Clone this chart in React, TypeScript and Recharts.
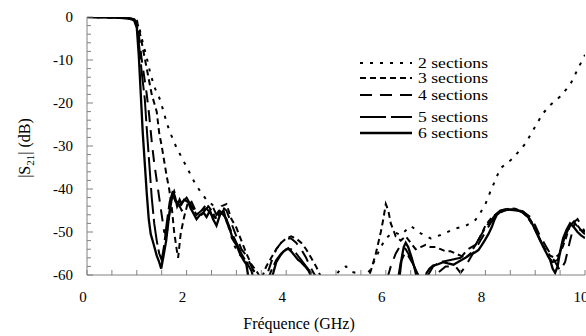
import React from "react";
import { LineChart, Line, XAxis, YAxis } from "recharts";

// ---- data ----
const seriesNames = ["2 sections", "3 sections", "4 sections", "5 sections", "6 sections"];
const xTicks = [0, 0.5, 1, 1.5, 2, 2.5, 3, 3.5, 4, 4.5, 5, 5.5, 6, 6.5, 7, 7.5, 8, 8.5, 9, 9.5, 10];
const xTickLabels = ["0", "2", "4", "6", "8", "10"];
const yTicks = [0, -2, -4, -6, -8, -10, -12, -14, -16, -18, -20, -22, -24, -26, -28, -30, -32, -34, -36, -38, -40, -42, -44, -46, -48, -50, -52, -54, -56, -58, -60];
const yTickLabels = ["0", "-10", "-20", "-30", "-40", "-50", "-60"];

const f2 = [0, 0.5, 0.8, 0.95, 1.0, 1.05, 1.1, 1.2, 1.27, 1.35, 1.47, 1.55, 1.6, 1.7, 1.79, 1.93, 2.05, 2.17, 2.3, 2.4, 2.5, 2.6, 2.7, 2.8, 2.87, 2.95, 3.05, 3.15, 3.25, 3.35, 3.45, 3.6, 4.0, 4.5, 4.9, 5.0, 5.1, 5.2, 5.3, 5.4, 5.5, 5.6, 5.7, 5.8, 5.9, 6.0, 6.1, 6.2, 6.3, 6.5, 6.7, 6.9, 7.1, 7.4, 7.6, 7.8, 7.9, 8.0, 8.1, 8.2, 8.3, 8.55, 8.8, 9.0, 9.15, 9.3, 9.5, 9.7, 9.83, 9.93, 10];
const v2 = [0, -0.1, -0.2, -0.4, -0.8, -2.5, -5, -9.5, -13, -16.2, -19.3, -22.5, -24.7, -27.7, -30.2, -33.3, -36, -38.7, -41, -42.5, -43.5, -44.5, -45.5, -47, -50, -53, -55, -56.5, -57.5, -59, -60.5, -63, -67, -64, -61, -60, -58.5, -58, -59.2, -59.5, -60.5, -60.3, -58.5, -56, -53.5, -51.5, -50.5, -50.2, -50.7, -48.6, -50.3, -51.5, -50.7, -49.2, -48.6, -47.2, -45.5, -43.5, -40.6, -37.9, -35.2, -32.9, -29.5, -25.5, -22.5, -20.5, -18.5, -15.8, -12.7, -10.4, -8.8];

const f3 = [0, 0.5, 0.8, 0.95, 1.0, 1.05, 1.1, 1.15, 1.2, 1.25, 1.3, 1.35, 1.4, 1.45, 1.5, 1.55, 1.6, 1.65, 1.7, 1.75, 1.8, 1.83, 1.88, 1.95, 2.03, 2.1, 2.2, 2.3, 2.4, 2.5, 2.6, 2.7, 2.8, 2.9, 3.0, 3.1, 3.2, 3.3, 3.4, 3.5, 3.6, 3.7, 3.8, 3.9, 4.0, 4.1, 4.2, 4.3, 4.4, 4.5, 4.6, 4.7, 4.8, 5.2, 5.6, 5.7, 5.8, 5.9, 5.95, 6.0, 6.05, 6.1, 6.2, 6.3, 6.4, 6.5, 6.6, 6.7, 6.8, 6.9, 7.0, 7.1, 7.2, 7.3, 7.4, 7.5, 7.6, 7.7, 7.8, 7.9, 8.0, 8.1, 8.2, 8.3, 8.4, 8.5, 8.6, 8.7, 8.8, 8.9, 9.0, 9.1, 9.2, 9.3, 9.4, 9.5, 9.6, 9.7, 9.75, 9.8, 9.9, 10];
const v3 = [0, -0.1, -0.2, -0.5, -1, -3, -6, -9, -12, -15, -18, -20, -22, -27, -30, -33.5, -37, -40, -44, -50, -54, -56, -50.5, -46.5, -43, -44, -46, -45, -43.5, -45, -47, -44, -43.5, -47, -49, -52, -55, -57.5, -59, -61, -58, -56, -54, -52.5, -51.5, -51, -51.5, -52.5, -54, -56, -58, -60.5, -64, -68, -62, -59, -55, -50, -47, -43.5, -45, -48, -51, -52, -51, -52.5, -54, -53.5, -53, -53.5, -53.5, -54, -54.5, -54.5, -55, -55.5, -56, -55, -53, -51, -48.5, -47, -46, -45.2, -44.8, -44.5, -44.6, -45, -46, -47.5, -49.5, -52, -54, -55.5, -56, -55, -52, -48.5, -47.5, -48, -49.5, -50];

const f4 = [0, 0.5, 0.8, 0.95, 1.0, 1.05, 1.1, 1.15, 1.2, 1.25, 1.3, 1.35, 1.4, 1.45, 1.5, 1.55, 1.6, 1.65, 1.7, 1.75, 1.82, 1.9, 2.0, 2.1, 2.2, 2.3, 2.4, 2.5, 2.6, 2.7, 2.8, 2.9, 3.0, 3.1, 3.2, 3.3, 3.4, 3.5, 3.6, 3.7, 3.8, 3.9, 4.0, 4.1, 4.2, 4.3, 4.4, 4.5, 4.6, 4.7, 5.5, 6.0, 6.1, 6.2, 6.3, 6.4, 6.5, 6.6, 6.7, 6.8, 7.0, 7.2, 7.4, 7.5, 7.6, 7.7, 7.8, 7.9, 8.0, 8.1, 8.2, 8.3, 8.45, 8.6, 8.75, 8.9, 9.0, 9.1, 9.2, 9.3, 9.4, 9.5, 9.6, 9.7, 9.8, 9.85, 9.9, 10];
const v4 = [0, -0.1, -0.2, -0.5, -1.5, -5, -10, -14, -18, -23, -29, -34, -38, -42, -46, -50, -50.5, -46, -42, -40.5, -43, -45, -44, -43, -45.5, -46, -44.5, -43.5, -46, -44, -45, -48, -51, -54, -55.5, -58, -60.5, -62, -60.5, -57, -54, -52.5, -51.5, -51.5, -52.5, -54, -56, -58.5, -60.5, -63, -70, -62, -58, -55, -53, -54, -56, -59, -61, -62, -60, -58, -58, -59.5, -58, -56, -54, -52, -50, -48, -46.5, -45.5, -44.7, -44.8, -45.2, -46.5, -48.5, -51, -53, -55, -57, -59, -57, -52, -47.5, -47, -48, -50];

const f5 = [0, 0.5, 0.8, 0.95, 1.0, 1.05, 1.1, 1.16, 1.2, 1.25, 1.3, 1.35, 1.4, 1.45, 1.5, 1.55, 1.6, 1.66, 1.71, 1.78, 1.85, 1.92, 2.0, 2.1, 2.2, 2.3, 2.4, 2.5, 2.6, 2.7, 2.8, 2.9, 3.0, 3.1, 3.2, 3.3, 3.35, 3.5, 3.65, 3.7, 3.8, 3.9, 4.0, 4.1, 4.2, 4.3, 4.4, 4.5, 4.56, 4.7, 5.5, 6.1, 6.25, 6.3, 6.38, 6.45, 6.55, 6.65, 6.75, 6.85, 6.95, 7.1, 7.3, 7.5, 7.65, 7.8, 7.9, 8.0, 8.1, 8.2, 8.3, 8.45, 8.6, 8.75, 8.85, 8.95, 9.05, 9.15, 9.25, 9.35, 9.45, 9.52, 9.6, 9.7, 9.78, 9.85, 9.95, 10];
const v5 = [0, -0.1, -0.3, -0.7, -1.5, -7, -13, -19, -26, -34, -42, -48, -52, -55, -56.5, -53, -48, -43, -41, -43, -44, -43, -42, -44, -46, -45, -44.5, -46, -47, -45.5, -47, -50, -52.5, -55, -57, -59, -61, -64, -60.5, -59, -56.5, -55, -54, -54, -55, -56.5, -58, -59.5, -61, -66, -70, -66, -60.5, -57, -55, -55.5, -57.5, -60, -62, -60, -58, -57, -56.5, -56, -54, -53, -51, -49, -47.5, -46, -45, -44.6, -44.8, -45.5, -46.5, -48, -50.5, -53, -55.5, -57, -56.5, -54, -51, -48.5, -47.5, -48.5, -50, -50.5];

const f6 = [0, 0.5, 0.8, 0.9, 0.95, 1.0, 1.04, 1.08, 1.12, 1.16, 1.2, 1.24, 1.28, 1.33, 1.4, 1.45, 1.49, 1.53, 1.59, 1.64, 1.69, 1.73, 1.77, 1.81, 1.86, 1.9, 1.95, 2.03, 2.08, 2.13, 2.2, 2.27, 2.34, 2.4, 2.47, 2.53, 2.6, 2.67, 2.74, 2.8, 2.87, 2.94, 3.0, 3.07, 3.14, 3.2, 3.24, 3.3, 3.5, 3.7, 3.74, 3.8, 3.88, 3.95, 4.04, 4.1, 4.17, 4.24, 4.3, 4.38, 4.45, 4.51, 4.6, 5.0, 6.0, 6.22, 6.28, 6.32, 6.36, 6.4, 6.45, 6.52, 6.58, 6.62, 6.7, 6.78, 6.82, 6.88, 6.95, 7.05, 7.15, 7.25, 7.36, 7.45, 7.52, 7.6, 7.69, 7.78, 7.86, 7.93, 7.99, 8.06, 8.13, 8.18, 8.23, 8.3, 8.36, 8.46, 8.56, 8.66, 8.76, 8.84, 8.9, 8.97, 9.03, 9.1, 9.16, 9.23, 9.3, 9.35, 9.4, 9.45, 9.5, 9.56, 9.63, 9.7, 9.77, 9.85, 9.92, 10];
const v6 = [0, -0.1, -0.3, -0.5, -0.9, -2.5, -9, -18, -27, -34, -41, -47, -50.5, -52.5, -55.5, -57, -58.5, -56, -52, -47, -43, -40.5, -42, -44, -42.5, -43.5, -42.5, -43, -44.5, -45.5, -47, -46, -45.5, -46.5, -45, -47, -48.5, -46, -45, -47.5, -49.5, -52, -53, -55, -56.5, -57.5, -60.5, -63, -64, -61, -59.5, -57, -55.5, -54.5, -53.8, -54.5, -55.5, -56.5, -57, -58, -59, -60.5, -64, -70, -68, -62, -60, -56, -53.5, -52.5, -53.5, -56, -58.5, -60.5, -64, -62, -59.5, -58.5, -57.8, -57.5, -57, -57.3, -57.6, -57, -56.5, -56, -55.3, -54.8, -54.2, -53, -51.9, -50.5, -48.8, -47.2, -46, -45.3, -45, -44.8, -44.9, -45, -45.3, -46.2, -47.2, -48.8, -50.3, -52, -53.4, -55, -56.5, -58.5, -59.5, -58, -54.5, -51.5, -49.5, -48, -48.8, -50, -50.8, -51.4];

// ---- styles ----
const FONT = "Liberation Serif, Tinos, Times New Roman, Times, DejaVu Serif, serif";
const AXIS = "#808080";
const PT = 17, PB = 275, PL = 87, PR = 585;
const dashes = ["3 7", "6 4", "12 8", "26 5", ""];
const widths = [2, 2, 2, 2, 2.3];

const build = (f: number[], v: number[]) => f.map((x, i) => ({ f: x, v: v[i] }));
const seriesData = [build(f2, v2), build(f3, v3), build(f4, v4), build(f5, v5), build(f6, v6)];

const txt = { fontFamily: FONT };

const XTickB = (props: any) => {
  const { x, payload } = props;
  const val = payload.value as number;
  const label = xTickLabels.find((t) => Number(t) === val);
  return (
    <g>
      <line x1={x} x2={x} y1={PB} y2={PB - 5} stroke={AXIS} />
      {label !== undefined && (
        <text x={x - 4} y={302} textAnchor="middle" style={txt} fontSize={15} fill="#000">
          {label}
        </text>
      )}
    </g>
  );
};
const XTickT = (props: any) => {
  const { x } = props;
  return <line x1={x} x2={x} y1={PT} y2={PT + 5} stroke={AXIS} />;
};
const YTickL = (props: any) => {
  const { y, payload } = props;
  const val = payload.value as number;
  const label = yTickLabels.find((t) => Number(t) === val);
  return (
    <g>
      <line x1={PL} x2={PL + (label !== undefined ? 6 : 4)} y1={y} y2={y} stroke={AXIS} />
      {label !== undefined && (
        <text x={73} y={y + 5} textAnchor="end" style={txt} fontSize={15} fill="#000">
          {label}
        </text>
      )}
    </g>
  );
};
const YTickR = (props: any) => {
  const { y } = props;
  return <line x1={PR} x2={PR - 5} y1={y} y2={y} stroke={AXIS} />;
};

const legendRows = [63, 78, 95, 117, 133];

export default function App() {
  return (
    <div style={{ position: "absolute", left: 0, top: 0, width: 586, height: 336, background: "#fff", fontFamily: FONT }}>
      <LineChart width={586} height={336} margin={{ top: PT, right: 1, bottom: 0, left: 0 }}>
        <XAxis xAxisId="b" dataKey="f" type="number" domain={[0, 10]} ticks={xTicks} interval={0}
          height={61} axisLine={{ stroke: AXIS }} tickLine={false} tick={<XTickB />} allowDataOverflow />
        <XAxis xAxisId="t" orientation="top" dataKey="f" type="number" domain={[0, 10]} ticks={xTicks} interval={0}
          height={0} axisLine={{ stroke: AXIS }} tickLine={false} tick={<XTickT />} allowDataOverflow />
        <YAxis yAxisId="l" type="number" domain={[-60, 0]} ticks={yTicks} interval={0} width={87}
          axisLine={{ stroke: AXIS }} tickLine={false} tick={<YTickL />} allowDataOverflow />
        <YAxis yAxisId="r" orientation="right" type="number" domain={[-60, 0]} ticks={yTicks} interval={0} width={0}
          axisLine={{ stroke: AXIS }} tickLine={false} tick={<YTickR />} allowDataOverflow />
        {seriesData.map((d, i) => (
          <Line key={seriesNames[i]} xAxisId="b" yAxisId="l" data={d} dataKey="v" name={seriesNames[i]}
            type="linear" stroke="#000" strokeWidth={widths[i]} strokeDasharray={dashes[i] || undefined}
            dot={false} activeDot={false} isAnimationActive={false} />
        ))}
      </LineChart>
      <svg width={586} height={336} style={{ position: "absolute", left: 0, top: 0, pointerEvents: "none" }}>
        {seriesNames.map((n, i) => (
          <g key={n}>
            <line x1={360} x2={412} y1={legendRows[i]} y2={legendRows[i]} stroke="#000" strokeWidth={widths[i]}
              strokeDasharray={dashes[i] || undefined} />
            <text x={418} y={legendRows[i] + 5} style={txt} fontSize={15} fill="#000"
              textLength={70} lengthAdjust="spacingAndGlyphs">{n}</text>
          </g>
        ))}
        <text x={299} y={329} textAnchor="middle" style={txt} fontSize={16} fill="#000">Fréquence (GHz)</text>
        <text x={30} y={148} textAnchor="middle" style={txt} fontSize={16} fill="#000" transform="rotate(-90 30 148)">
          |S<tspan fontSize={11} dy={4}>21</tspan><tspan dy={-4}>| (dB)</tspan>
        </text>
      </svg>
    </div>
  );
}
